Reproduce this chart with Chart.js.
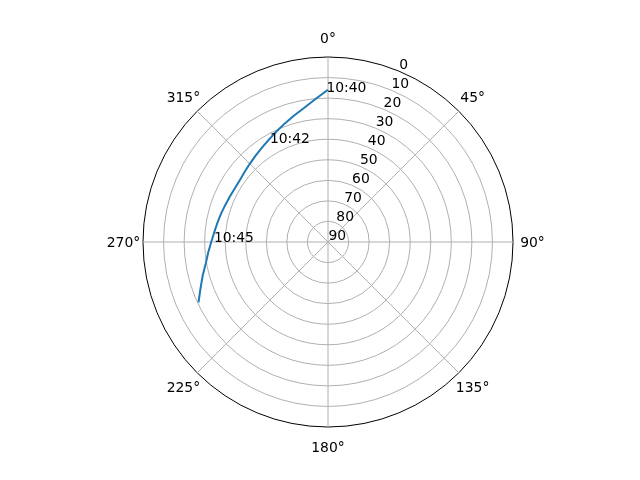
<!DOCTYPE html>
<html>
<head>
<meta charset="utf-8">
<script src="https://cdn.jsdelivr.net/npm/chart.js@4.4.0/dist/chart.umd.min.js"></script>
<style>
  html, body { margin: 0; padding: 0; background: #ffffff; }
</style>
</head>
<body>
<canvas id="sky" width="640" height="480"></canvas>
<script>
// ----------------------------------------
// Sky plot of a satellite pass
// ----------------------------------------

// spacing of the radar spokes, degrees of azimuth
var azStep = 5;

// track: azimuth and elevation, degrees
var trackAz   = [245, 250, 255, 260, 265, 270, 275, 280, 285, 290, 295, 300,
                 305, 310, 315, 320, 325, 330, 335, 340, 345, 350, 355, 360];
var trackElev = [20.5, 24.0, 26.9, 29.6, 31.5, 33.2, 34.5, 35.4, 36.2, 36.9, 37.4, 37.7,
                 37.6, 37.0, 36.2, 35.2, 34.0, 32.5, 30.7, 28.6, 26.3, 23.7, 20.2, 15.9];

// time marks along the track
var timeLabels = ['10:40', '10:42', '10:45'];
var timeAz     = [359.4, 329.7, 270.2];
var timeElev   = [16.9, 34.0, 34.5];

// tick labels
var thetaTicks = [0, 45, 90, 135, 180, 225, 270, 315];
var elevTicks  = [0, 10, 20, 30, 40, 50, 60, 70, 80, 90];
var rLabelAngle = 22.5;

// one spoke every azStep degrees, zenith distance (90 - elevation) on the radius
var spokeCount = 360 / azStep;
var spokes = [];
var zenith = [];
for (var i = 0; i < spokeCount; i++) {
    spokes.push(i * azStep);
    zenith.push(null);
}
trackAz.forEach(function (az, k) {
    zenith[(az / azStep) % spokeCount] = 90 - trackElev[k];
});

// Labels drawn on top: theta ticks, elevation ticks, time marks
var skyLabels = {
    id: 'skyLabels',
    afterDatasetsDraw: function (chart) {
        var r = chart.scales.r;
        var ctx = chart.ctx;
        ctx.save();
        ctx.font = '13.9px "DejaVu Sans"';
        ctx.fillStyle = '#000000';
        ctx.textBaseline = 'alphabetic';

        ctx.textAlign = 'center';
        thetaTicks.forEach(function (deg) {
            var p = r.getPointPosition(deg / azStep, r.drawingArea + 19.5);
            ctx.fillText(deg + '°', p.x, p.y + 5);
        });

        ctx.textAlign = 'left';
        elevTicks.forEach(function (e) {
            var p = r.getPointPosition(rLabelAngle / azStep, r.getDistanceFromCenterForValue(90 - e));
            ctx.fillText(String(e), p.x + 0.5, p.y - 2);
        });

        timeLabels.forEach(function (t, k) {
            var p = r.getPointPosition(timeAz[k] / azStep, r.getDistanceFromCenterForValue(90 - timeElev[k]));
            ctx.fillText(t, p.x, p.y);
        });
        ctx.restore();
    }
};

var ctx = document.getElementById('sky').getContext('2d');
var chart = new Chart(ctx, {
    type: 'radar',
    data: {
        labels: spokes,
        datasets: [{
            data: zenith,
            borderColor: '#1f77b4',
            borderWidth: 2,
            pointRadius: 0,
            pointHoverRadius: 0,
            fill: false,
            spanGaps: false,
            tension: 0
        }]
    },
    options: {
        responsive: false,
        animation: false,
        layout: { padding: { left: 80, right: 64, top: 57, bottom: 53 } },
        plugins: {
            legend: { display: false },
            tooltip: { enabled: false }
        },
        scales: {
            r: {
                min: 0,
                max: 90,
                ticks: { display: false, stepSize: 10 },
                pointLabels: { display: false },
                grid: {
                    circular: true,
                    lineWidth: 1,
                    color: function (c) {
                        return c.tick && c.tick.value === 90 ? '#000000' : '#b0b0b0';
                    }
                },
                angleLines: {
                    color: function (c) {
                        return (c.index * azStep) % 45 === 0 ? '#b0b0b0' : 'rgba(0,0,0,0)';
                    },
                    lineWidth: function (c) {
                        return (c.index * azStep) % 45 === 0 ? 1 : 0;
                    }
                }
            }
        }
    },
    plugins: [skyLabels]
});
</script>
</body>
</html>
